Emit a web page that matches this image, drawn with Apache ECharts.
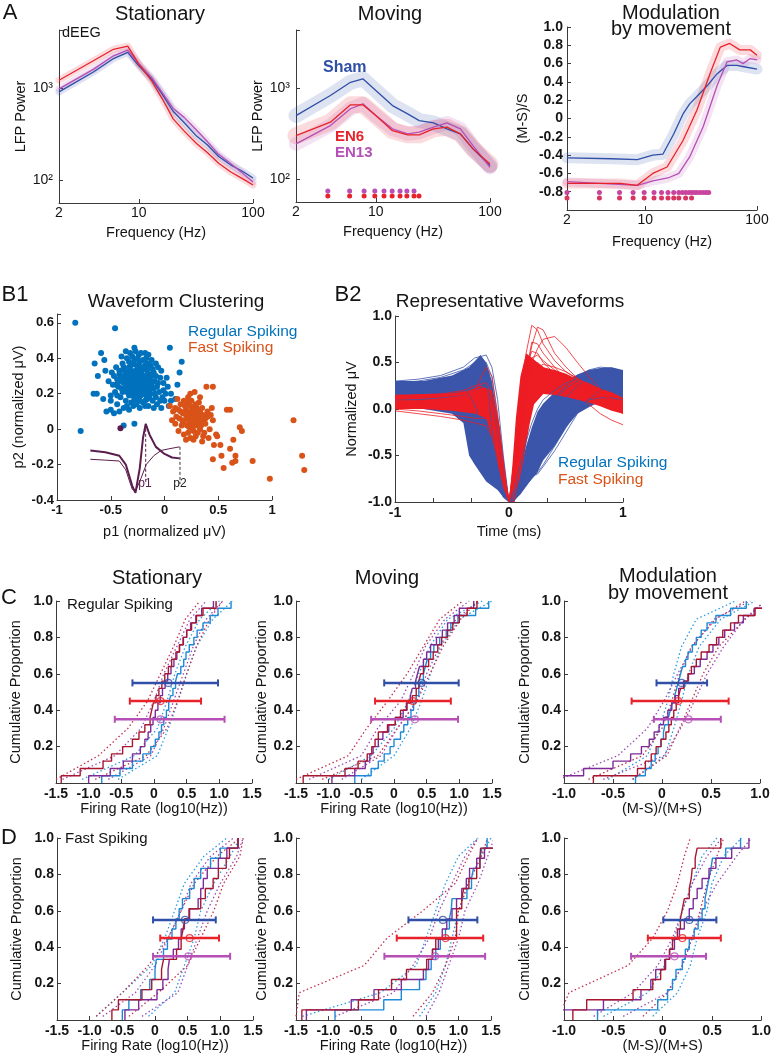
<!DOCTYPE html>
<html>
<head>
<meta charset="utf-8">
<title>LFP spectra, waveform clustering and firing-rate CDFs</title>
<script src="https://cdn.jsdelivr.net/npm/echarts@6/dist/echarts.min.js"></script>
<style>
  html, body { margin: 0; padding: 0; background: #fff; }
  #chart { width: 774px; height: 1058px; }
</style>
</head>
<body>
<div id="chart"></div>
<script>
// ---------- A: LFP power spectra ----------
const statFreq = [2, 4, 6, 8, 10, 13, 16, 20, 25, 32, 40, 50, 64, 80, 100];
const statSham = [910, 1500, 2100, 2450, 1750, 1250, 860, 560, 420, 300, 240, 180, 145, 125, 105];
const statEN6  = [1220, 1990, 2650, 2870, 1830, 1190, 770, 463, 340, 249, 198, 152, 122, 104, 88];
const statEN13 = [980, 1600, 2250, 2600, 1850, 1300, 900, 600, 480, 350, 260, 190, 150, 120, 95];

const movFreq = [2, 4, 6, 7.7, 10, 14, 19, 24, 32, 42, 55, 71, 100];
const movSham = [496, 822, 1150, 1255, 935, 638, 517, 437, 412, 355, 313, 214, 140];
const movEN6  = [299, 420, 650, 650, 496, 339, 305, 305, 355, 370, 313, 214, 146];
const movEN13 = [243, 385, 589, 667, 496, 355, 313, 326, 370, 412, 355, 232, 134];
const movSigEN13 = [3.8, 5.9, 7.9, 9.8, 11.8, 13.9, 16.3, 18.7, 21.6];
const movSigEN6  = [3.8, 5.9, 7.9, 9.8, 11.8, 13.9, 16.3, 18.7, 21.6, 23.9];
const movSigLevel = [74, 65];   // EN13 row, EN6 row

const modFreqSham = [2, 5, 8.5, 11.7, 14.4, 18, 21.8, 25, 29, 36, 44, 54, 66, 81, 100];
const modSham     = [-0.43, -0.44, -0.45, -0.40, -0.39, -0.17, 0.05, 0.16, 0.24, 0.36, 0.49, 0.58, 0.58, 0.56, 0.54];
const modFreqEN6  = [2, 6, 8.5, 11.7, 15.7, 21.8, 29, 38, 47, 57, 70, 87, 100];
const modEN6      = [-0.71, -0.71, -0.73, -0.60, -0.53, -0.24, 0.09, 0.49, 0.78, 0.82, 0.75, 0.75, 0.69];
const modFreqEN13 = [2, 8.5, 12, 16, 20, 25, 33, 44, 54, 66, 75, 87, 100];
const modEN13     = [-0.69, -0.73, -0.68, -0.65, -0.60, -0.42, -0.09, 0.36, 0.62, 0.64, 0.60, 0.655, 0.64];
const modSigEN13 = [2, 3.9, 5.9, 7.8, 9.8, 12, 14, 16, 18, 20, 21.5, 23, 24.5, 26, 27.5, 29, 31, 33, 35, 37];
const modSigEN6  = [2, 3.9, 5.9, 7.8, 9.8, 12, 14, 16, 18, 20, 23, 26];
const modSigLevel = [-0.81, -0.87];

// ---------- B1: waveform clustering (p1, p2) ----------
const rsPts = [
  [-0.30,0.30],[-0.28,0.27],[-0.25,0.29],[-0.22,0.26],[-0.20,0.30],[-0.32,0.25],[-0.35,0.28],[-0.27,0.33],[-0.23,0.33],[-0.18,0.27],
  [-0.15,0.24],[-0.26,0.22],[-0.30,0.21],[-0.34,0.23],[-0.38,0.26],[-0.40,0.30],[-0.37,0.33],[-0.33,0.35],[-0.29,0.37],[-0.24,0.36],
  [-0.19,0.34],[-0.14,0.31],[-0.12,0.27],[-0.10,0.23],[-0.13,0.20],[-0.17,0.21],[-0.21,0.22],[-0.24,0.18],[-0.28,0.17],[-0.33,0.19],
  [-0.39,0.21],[-0.43,0.24],[-0.44,0.28],[-0.42,0.33],[-0.39,0.37],[-0.35,0.40],[-0.30,0.41],[-0.25,0.40],[-0.20,0.39],[-0.16,0.37],
  [-0.11,0.34],[-0.08,0.30],[-0.06,0.26],[-0.05,0.21],[-0.08,0.18],[-0.11,0.16],[-0.16,0.17],[-0.20,0.15],[-0.26,0.14],[-0.31,0.15],
  [-0.36,0.16],[-0.41,0.18],[-0.46,0.21],[-0.48,0.25],[-0.47,0.30],[-0.45,0.35],[-0.31,0.27],[-0.27,0.25],[-0.23,0.24],[-0.26,0.31],
  [-0.21,0.28],[-0.17,0.30],[-0.29,0.24],[-0.33,0.30],[-0.36,0.25],[-0.24,0.21],[-0.19,0.24],[-0.14,0.27],[-0.22,0.32],[-0.31,0.33],
  [-0.29,0.29],[-0.26,0.27],[-0.24,0.26],[-0.21,0.25],[-0.18,0.23],[-0.28,0.32],[-0.34,0.32],[-0.37,0.29],[-0.32,0.22],[-0.27,0.20],
  [-0.22,0.19],[-0.17,0.19],[-0.13,0.23],[-0.09,0.27],[-0.12,0.30],[-0.16,0.33],[-0.20,0.35],[-0.25,0.34],[-0.41,0.27],[-0.38,0.23],
  [-0.29,0.31],[-0.27,0.29],[-0.25,0.25],[-0.23,0.28],[-0.21,0.31],[-0.19,0.29],[-0.17,0.26],[-0.16,0.22],[-0.20,0.20],[-0.23,0.16],
  [-0.30,0.19],[-0.35,0.21],[-0.36,0.31],[-0.33,0.38],[-0.28,0.39],[-0.23,0.38],[-0.18,0.36],[-0.14,0.35],[-0.10,0.32],[-0.07,0.24],
  [-0.09,0.20],[-0.14,0.18],[-0.18,0.16],[-0.25,0.16],[-0.40,0.23],[-0.42,0.31],[-0.38,0.35],[-0.32,0.28],[-0.26,0.36],[-0.20,0.27],
  [-0.15,0.28],[-0.12,0.25],[-0.34,0.26],[-0.28,0.22],[-0.22,0.21],[-0.31,0.36],[-0.44,0.19],[-0.04,0.29],[-0.06,0.35],[-0.01,0.22],
  [-0.13,0.36],[-0.17,0.40],[-0.24,0.42],[-0.32,0.43],[-0.45,0.25],[-0.49,0.32],[-0.50,0.16],[-0.04,0.16],[-0.07,0.14],[-0.18,0.13],
  [-0.23,0.12],[-0.29,0.13],[-0.35,0.13],[0.01,0.20],[-0.01,0.26],
  [-0.02,0.18],[0.00,0.16],[-0.03,0.12],[-0.10,0.12],[-0.15,0.13],[-0.12,0.39],[-0.08,0.37],[-0.22,0.43],[-0.27,0.44],[-0.15,0.42],
  [-0.40,0.41],[-0.50,0.19],[-0.52,0.27],[-0.55,0.33],[-0.44,0.14],[-0.38,0.12],[-0.33,0.11],[-0.47,0.09],[-0.42,0.10],[0.03,0.24],
  [0.06,0.20],[0.02,0.29],[-0.03,0.33],[0.04,0.13],
  [-0.83,0.60],[-0.46,0.57],[-0.78,-0.01],[-0.38,0.02],[-0.28,0.03],[-0.59,0.43],[-0.65,0.37],[-0.66,0.20],[-0.63,0.20],[-0.57,0.17],
  [-0.54,0.10],[-0.50,0.11],[-0.36,0.44],[-0.28,0.46],[-0.18,0.43],[0.05,0.46],[0.16,0.38],[0.14,0.32],[0.12,0.25],[0.10,0.17],
  [0.06,0.16],[-0.62,0.30],[-0.56,0.39]
];
const fsPts = [
  [0.20,0.08],[0.23,0.06],[0.26,0.07],[0.29,0.05],[0.32,0.06],[0.25,0.03],[0.28,0.09],[0.22,0.10],[0.18,0.05],[0.30,0.02],
  [0.34,0.04],[0.36,0.08],[0.27,0.12],[0.24,0.13],[0.31,0.11],[0.21,0.02],[0.17,0.09],[0.14,0.06],[0.33,0.00],[0.27,-0.01],
  [0.22,-0.02],[0.38,0.03],[0.40,0.07],[0.35,0.12],[0.19,0.13],[0.13,0.11],[0.11,0.07],[0.16,0.02],[0.29,-0.04],[0.24,-0.05],
  [0.37,-0.02],[0.42,0.00],[0.26,0.04],[0.24,0.09],[0.30,0.08],[0.28,0.06],[0.25,0.10],[0.21,0.06],[0.32,0.09],[0.27,0.02],
  [0.23,0.04],[0.26,0.10],[0.29,0.03],[0.31,0.07],[0.33,0.10],[0.27,0.05],[0.22,0.07],[0.19,0.09],[0.20,0.11],[0.35,0.05],
  [0.30,0.12],[0.26,0.00],[0.23,0.01],[0.34,0.02],[0.38,0.06],[0.17,0.04],[0.15,0.10],[0.29,0.14],[0.21,0.15],[0.31,-0.02],
  [0.36,-0.04],[0.40,0.10],[0.43,0.08],[0.27,-0.06],[0.18,-0.03],[0.10,0.12],[0.33,0.18],[0.22,0.18],
  [0.05,0.13],[0.08,0.10],[0.10,0.03],[0.13,-0.01],[0.18,0.16],[0.25,0.16],[0.32,0.15],[0.28,0.21],[0.24,0.20],[0.44,0.12],
  [0.45,0.05],[0.41,-0.05],[0.35,-0.07],[0.20,-0.06],[0.15,0.14],[0.12,0.17],[0.07,0.05],[0.48,-0.03],[0.46,-0.09],
  [0.39,0.24],[0.45,0.24],[0.58,0.11],[0.61,0.11],[0.70,0.01],[0.72,-0.01],[0.64,-0.06],[0.49,-0.04],[0.52,-0.09],[0.45,-0.17],
  [0.53,-0.15],[0.61,-0.11],[0.66,-0.15],[0.66,-0.18],[0.63,-0.19],[0.55,-0.22],[0.82,-0.18],[0.98,-0.28],[1.20,0.05],[1.28,-0.15],[1.30,-0.23]
];
const exampleUnit = [[-0.41, 0.005]];
const insetWaveA = [[-0.69,-0.12],[-0.55,-0.13],[-0.42,-0.15],[-0.36,-0.20],[-0.30,-0.32],[-0.27,-0.36],[-0.23,-0.22],[-0.20,-0.05],[-0.175,0.03],[-0.14,-0.03],[-0.08,-0.10],[0.00,-0.14],[0.07,-0.16],[0.14,-0.165]];
const insetWaveB = [[-0.69,-0.17],[-0.55,-0.175],[-0.42,-0.18],[-0.36,-0.23],[-0.30,-0.34],[-0.27,-0.35],[-0.22,-0.28],[-0.17,-0.20],[-0.10,-0.15],[-0.03,-0.12],[0.05,-0.11],[0.14,-0.10]];
const p1Mark = [[-0.175, 0.03], [-0.175, -0.31]];
const p2Mark = [[0.144, -0.10], [0.144, -0.31]];

// ---------- B2: representative waveforms ----------
const rsEnvUpper = [[-1,0.3],[-0.75,0.3],[-0.5,0.36],[-0.35,0.45],[-0.25,0.58],[-0.2,0.5],[-0.15,0.3],[-0.1,-0.1],[-0.05,-0.6],[0,-1.0],[0.05,-0.85],[0.1,-0.62],[0.15,-0.4],[0.2,-0.2],[0.25,-0.03],[0.3,0.06],[0.4,0.18],[0.5,0.3],[0.6,0.37],[0.7,0.42],[0.8,0.44],[0.9,0.45],[1.0,0.42]];
const rsEnvLower = [[-1,0.03],[-0.75,0.0],[-0.5,-0.05],[-0.4,-0.15],[-0.35,-0.5],[-0.3,-0.6],[-0.2,-0.78],[-0.1,-0.87],[-0.05,-0.95],[0,-1.0],[0.03,-1.0],[0.1,-0.92],[0.2,-0.75],[0.25,-0.68],[0.3,-0.55],[0.4,-0.4],[0.5,-0.2],[0.6,-0.05],[0.7,0.02],[0.8,0.08],[0.9,0.1],[1.0,0.1]];
const fsEnvUpper = [[-1,0.15],[-0.75,0.16],[-0.5,0.17],[-0.35,0.2],[-0.25,0.25],[-0.15,0.2],[-0.08,-0.2],[-0.03,-0.7],[0,-1.0],[0.03,-0.6],[0.06,-0.1],[0.1,0.35],[0.15,0.6],[0.2,0.55],[0.3,0.45],[0.4,0.42],[0.5,0.38],[0.6,0.32],[0.7,0.28],[0.8,0.22],[0.9,0.18],[1.0,0.12]];
const fsEnvLower = [[-1,0.0],[-0.75,0.0],[-0.5,-0.02],[-0.3,-0.05],[-0.2,-0.1],[-0.15,-0.3],[-0.1,-0.6],[-0.05,-0.85],[0,-1.0],[0.05,-1.0],[0.13,-0.53],[0.18,-0.17],[0.22,0.05],[0.3,0.16],[0.4,0.15],[0.5,0.13],[0.6,0.1],[0.7,0.07],[0.8,0.03],[0.9,-0.02],[1.0,-0.05]];
const wfTime = [-1, -0.8, -0.6, -0.4, -0.3, -0.2, -0.15, -0.1, -0.05, 0, 0.05, 0.1, 0.15, 0.2, 0.25, 0.3, 0.4, 0.5, 0.6, 0.7, 0.8, 0.9, 1.0];
const rsWaves = [
  [0.25,0.27,0.3,0.38,0.45,0.5,0.35,-0.1,-0.6,-1.0,-0.95,-0.85,-0.7,-0.55,-0.4,-0.25,-0.05,0.12,0.25,0.33,0.38,0.4,0.38],
  [0.3,0.32,0.36,0.45,0.55,0.58,0.45,0.1,-0.5,-1.0,-0.9,-0.75,-0.55,-0.35,-0.2,-0.05,0.12,0.25,0.35,0.42,0.45,0.44,0.4],
  [0.1,0.1,0.12,0.15,0.2,0.25,0.1,-0.3,-0.8,-1.0,-0.98,-0.9,-0.82,-0.75,-0.68,-0.6,-0.4,-0.2,0.0,0.1,0.12,0.12,0.1],
  [0.2,0.22,0.25,0.3,0.35,0.4,0.2,-0.2,-0.7,-1.0,-0.92,-0.8,-0.6,-0.4,-0.25,-0.1,0.1,0.22,0.3,0.35,0.37,0.36,0.33],
  [0.28,0.3,0.34,0.42,0.5,0.35,-0.2,-0.6,-0.9,-1.0,-0.85,-0.6,-0.35,-0.15,0.0,0.1,0.2,0.28,0.33,0.37,0.4,0.42,0.4],
  [0.15,0.17,0.2,0.25,0.05,-0.4,-0.6,-0.8,-0.95,-1.0,-0.97,-0.9,-0.8,-0.72,-0.7,-0.62,-0.45,-0.25,-0.05,0.1,0.2,0.25,0.25]
];
const fsWaves = [
  [0.12,0.13,0.14,0.16,0.18,0.2,0.12,-0.2,-0.7,-1.0,-0.55,0.1,0.6,0.9,0.85,0.7,0.52,0.4,0.32,0.25,0.18,0.1,0.05],
  [0.05,0.06,0.07,0.08,0.1,0.1,0.0,-0.35,-0.8,-1.0,-0.6,-0.05,0.35,0.68,0.88,0.85,0.6,0.45,0.33,0.25,0.17,0.1,0.04],
  [0.15,0.15,0.16,0.2,0.25,0.28,0.18,-0.1,-0.6,-1.0,-0.7,-0.3,0.2,0.5,0.65,0.75,0.78,0.66,0.5,0.35,0.22,0.1,0.0],
  [-0.02,-0.05,-0.08,-0.12,-0.15,-0.18,-0.3,-0.5,-0.8,-1.0,-0.65,-0.2,0.25,0.45,0.5,0.45,0.35,0.25,0.15,0.05,-0.05,-0.12,-0.17],
  [0.1,0.12,0.13,0.15,0.2,0.45,0.35,-0.05,-0.6,-1.0,-0.5,0.15,0.45,0.62,0.6,0.5,0.38,0.3,0.25,0.2,0.15,0.1,0.08],
  [0.08,0.08,0.09,0.1,0.12,0.12,0.05,-0.3,-0.75,-1.0,-0.6,-0.1,0.3,0.55,0.58,0.52,0.42,0.34,0.27,0.2,0.12,0.05,0.0],
  [0.0,-0.02,-0.05,-0.08,-0.1,-0.1,-0.15,-0.4,-0.8,-1.0,-0.55,0.0,0.4,0.72,0.7,0.6,0.45,0.32,0.22,0.14,0.08,0.02,-0.05],
  [0.14,0.14,0.15,0.17,0.2,0.22,0.15,-0.15,-0.65,-1.0,-0.7,-0.25,0.15,0.38,0.45,0.48,0.45,0.4,0.33,0.26,0.2,0.14,0.1]
];

// ---------- C/D: cumulative distributions (sorted unit values) ----------
const cdfLevels = [0.02, 0.15, 0.3, 0.45, 0.6, 0.75, 0.9, 1.0];   // y of the dotted bounds
const errLevels = [0.55, 0.45, 0.35];                              // Sham, EN6, EN13 bars

const c1Sham = [-0.8,-0.52,-0.33,-0.17,-0.05,0.02,0.075,0.115,0.15,0.19,0.225,0.255,0.29,0.33,0.36,0.41,0.455,0.49,0.54,0.61,0.66,0.75,0.86,0.98,1.18];
const c1EN6  = [-1.42,-1.13,-0.78,-0.65,-0.48,-0.33,-0.23,-0.14,-0.06,-0.035,-0.01,0.03,0.075,0.12,0.165,0.22,0.27,0.335,0.39,0.45,0.5,0.575,0.65,0.75,0.95];
const c1EN13 = [-1.0,-0.67,-0.47,-0.33,-0.21,-0.14,-0.09,-0.05,-0.015,0.02,0.06,0.095,0.13,0.17,0.21,0.26,0.305,0.35,0.39,0.445,0.5,0.56,0.64,0.73,0.91];
const c1ShamLo = [-1.1,-0.3,0.05,0.2,0.32,0.48,0.7,1.0],   c1ShamHi = [-0.55,0.05,0.22,0.37,0.5,0.65,0.9,1.2];
const c1EN6Lo  = [-1.5,-0.85,-0.4,-0.1,0.1,0.3,0.48,0.7],   c1EN6Hi  = [-0.9,-0.12,0.2,0.36,0.5,0.65,0.85,1.05];
const c1EN13Lo = [-1.4,-0.6,-0.2,0.0,0.15,0.35,0.55,0.8],   c1EN13Hi = [-0.7,-0.05,0.15,0.3,0.45,0.6,0.8,1.05];
const c1ErrSham = [-0.33, 0.22, 0.98], c1ErrEN6 = [-0.37, 0.1, 0.72], c1ErrEN13 = [-0.6, 0.1, 1.08];

const c2Sham = [-0.6,-0.35,-0.24,-0.15,-0.06,0.0,0.1,0.15,0.21,0.26,0.3,0.34,0.38,0.41,0.45,0.48,0.51,0.56,0.61,0.7,0.8,0.87,0.98,1.25,1.45];
const c2EN6  = [-1.39,-0.75,-0.55,-0.41,-0.34,-0.29,-0.24,-0.1,0.02,0.1,0.19,0.28,0.34,0.38,0.41,0.45,0.53,0.6,0.67,0.73,0.82,0.9,1.0,1.12,1.27];
const c2EN13 = [-0.95,-0.6,-0.44,-0.37,-0.32,-0.24,-0.17,-0.08,0.02,0.14,0.2,0.25,0.28,0.33,0.36,0.39,0.45,0.5,0.56,0.65,0.74,0.82,0.92,1.0,1.22];
const c2ShamLo = [-1.0,-0.35,0.0,0.22,0.38,0.55,0.82,1.35],  c2ShamHi = [-0.5,0.0,0.25,0.42,0.56,0.72,1.0,1.5];
const c2EN6Lo  = [-1.5,-0.7,-0.42,-0.1,0.2,0.45,0.7,1.05],  c2EN6Hi  = [-1.1,-0.25,0.05,0.35,0.55,0.75,1.02,1.28];
const c2EN13Lo = [-1.3,-0.5,-0.25,0.1,0.3,0.48,0.78,1.15],  c2EN13Hi = [-0.8,-0.2,0.05,0.35,0.5,0.7,0.95,1.3];
const c2ErrSham = [-0.15, 0.42, 0.99], c2ErrEN6 = [-0.29, 0.29, 0.87], c2ErrEN13 = [-0.35, 0.32, 0.98];

const c3Sham = [-0.27,-0.17,-0.11,-0.07,-0.04,-0.01,0.015,0.03,0.065,0.085,0.105,0.13,0.15,0.17,0.19,0.21,0.24,0.265,0.31,0.35,0.4,0.46,0.55,0.7,0.86];
const c3EN6  = [-0.7,-0.25,-0.17,-0.11,-0.06,-0.01,0.04,0.07,0.095,0.12,0.145,0.17,0.19,0.225,0.265,0.3,0.35,0.4,0.48,0.557,0.62,0.7,0.78,0.95,1.05];
const c3EN13 = [-1.05,-0.8,-0.5,-0.32,-0.21,-0.13,-0.08,-0.03,0.015,0.06,0.1,0.135,0.17,0.22,0.27,0.33,0.39,0.46,0.52,0.58,0.64,0.74,0.83,0.94,1.05];
const c3ShamLo = [-0.55,-0.15,-0.03,0.06,0.12,0.2,0.35,0.75],  c3ShamHi = [-0.3,0.03,0.12,0.2,0.27,0.38,0.6,0.95];
const c3EN6Lo  = [-0.75,-0.2,0.0,0.1,0.18,0.3,0.55,0.85],     c3EN6Hi  = [-0.3,0.05,0.18,0.3,0.42,0.58,0.85,1.05];
const c3EN13Lo = [-1.05,-0.45,-0.15,0.02,0.16,0.31,0.53,0.9], c3EN13Hi = [-0.6,0.02,0.19,0.33,0.46,0.63,0.84,1.05];
const c3ErrSham = [-0.056, 0.2, 0.46], c3ErrEN6 = [-0.31, 0.165, 0.68], c3ErrEN13 = [-0.083, 0.27, 0.6];

const d1Sham = [-0.5,-0.4,-0.22,-0.08,0.0,0.02,0.13,0.19,0.26,0.32,0.37,0.42,0.53,0.6,0.7,0.85,1.0,1.27];
const d1EN6  = [-0.66,-0.56,-0.2,-0.05,0.1,0.13,0.33,0.4,0.43,0.46,0.52,0.7,0.77,0.89,0.97,1.09,1.14,1.27];
const d1EN13 = [-0.46,-0.25,0.03,0.12,0.2,0.22,0.28,0.36,0.4,0.45,0.53,0.66,0.7,0.74,0.8,0.97,1.1,1.27];
const d1ShamLo = [-0.9,-0.5,-0.05,0.15,0.3,0.45,0.75,1.1],  d1ShamHi = [-0.1,0.3,0.45,0.6,0.7,0.9,1.15,1.3];
const d1EN6Lo  = [-0.9,-0.5,-0.1,0.2,0.4,0.6,0.95,1.3],    d1EN6Hi  = [-0.4,0.05,0.5,0.7,0.9,1.05,1.3,1.35];
const d1EN13Lo = [-0.8,-0.3,0.0,0.2,0.4,0.55,0.85,1.2],    d1EN13Hi = [-0.2,0.35,0.5,0.65,0.8,1.0,1.25,1.35];
const d1ErrSham = [-0.03, 0.46, 0.93], d1ErrEN6 = [0.08, 0.53, 0.98], d1ErrEN13 = [-0.03, 0.51, 1.15];

const d2Sham = [-0.9,-0.15,0.12,0.4,0.5,0.58,0.65,0.72,0.8,0.86,0.89,0.9,1.13,1.2,1.23,1.33,1.36,1.44];
const d2EN6  = [-1.41,-0.54,-0.23,-0.03,0.2,0.51,0.6,0.65,0.97,0.97,0.97,1.05,1.08,1.16,1.28,1.33,1.34,1.6];
const d2EN13 = [-1.34,-0.65,-0.3,0.12,0.46,0.54,0.6,0.69,0.75,0.82,0.9,0.97,1.05,1.12,1.17,1.28,1.4,1.55];
const d2ShamLo = [-1.4,-0.2,0.35,0.5,0.65,0.8,1.0,1.3],     d2ShamHi = [0.4,0.65,0.8,0.9,1.0,1.15,1.35,1.5];
const d2EN6Lo  = [-1.5,-1.45,-0.45,-0.1,0.45,0.95,1.15,1.3], d2EN6Hi  = [0.3,0.6,0.8,0.95,1.0,1.15,1.35,1.45];
const d2EN13Lo = [-0.9,0.0,0.3,0.55,0.7,0.9,1.1,1.3],       d2EN13Hi = [0.5,0.7,0.85,1.0,1.1,1.3,1.45,1.55];
const d2ErrSham = [0.23, 0.76, 1.29], d2ErrEN6 = [0.05, 0.8, 1.38], d2ErrEN13 = [-0.14, 0.64, 1.41];

const d3Sham = [-0.66,-0.05,0.05,0.1,0.135,0.2,0.23,0.27,0.32,0.36,0.4,0.43,0.45,0.47,0.49,0.505,0.64,0.79];
const d3EN6  = [-0.91,-0.77,-0.3,-0.1,-0.02,0.03,0.07,0.1,0.15,0.18,0.2,0.22,0.27,0.29,0.3,0.33,0.35,0.59];
const d3EN13 = [-1.05,-0.6,-0.22,-0.12,-0.07,0.02,0.07,0.12,0.17,0.22,0.27,0.31,0.35,0.4,0.47,0.54,0.7,0.875];
const d3ShamLo = [-0.6,-0.15,0.02,0.12,0.2,0.3,0.4,0.55],     d3ShamHi = [-0.1,0.15,0.28,0.35,0.45,0.5,0.62,0.8];
const d3EN6Lo  = [-1.05,-0.95,-0.35,-0.1,0.05,0.15,0.22,0.28], d3EN6Hi  = [-0.2,0.05,0.2,0.3,0.38,0.45,0.55,0.62];
const d3EN13Lo = [-0.7,-0.3,-0.05,0.1,0.2,0.3,0.45,0.6],      d3EN13Hi = [-0.4,0.05,0.2,0.3,0.4,0.55,0.75,0.9];
const d3ErrSham = [0.007, 0.27, 0.545], d3ErrEN6 = [-0.15, 0.2, 0.59], d3ErrEN13 = [-0.32, 0.12, 0.44];

// ---------- style ----------
const FONT = 'Liberation Sans, Arial, sans-serif';
const INK = '#141414';
const COL = {
  sham: '#2f4fa8', en6: '#e8222b', en13: '#b64fb6',
  rs: '#0072bd', fs: '#d95319',
  wfBlue: '#3b55aa', wfRed: '#ee1d24',
  cdfSham: '#1d8ad8', cdfEN6: '#a8172f', cdfEN13: '#7e2b98',
  dotSham: '#2e9be0', dotEN6: '#c0304f', dotEN13: '#9b4cb5',
  inset: '#5b1d4d'
};

const zip = (xs, ys) => xs.map((x, i) => [x, ys[i]]);
const flat = (xs, y) => xs.map(x => [x, y]);
function ecdf(xs) {
  const n = xs.length;
  return [[xs[0], 0]].concat(xs.map((x, i) => [x, (i + 1) / n]));
}

function grid(left, top, width, height) { return { left: left, top: top, width: width, height: height }; }
const grids = [
  grid(59, 30, 194, 173),   // 0 A1
  grid(296, 30, 194, 172),  // 1 A2
  grid(567, 27, 190, 183),  // 2 A3
  grid(57, 314, 215, 186),  // 3 B1
  grid(395, 316, 228, 186), // 4 B2
  grid(56, 601, 196, 182),  // 5 C1
  grid(296, 601, 196, 182), // 6 C2
  grid(564, 601, 196, 182), // 7 C3
  grid(57, 838, 196, 182),  // 8 D1
  grid(296, 838, 195, 182), // 9 D2
  grid(564, 838, 198, 182)  // 10 D3
];

function axis(gi, o) {
  const a = {
    gridIndex: gi, type: o.type || 'value', min: o.min, max: o.max,
    name: o.name || '', nameLocation: 'middle', nameGap: o.gap || 20,
    nameTextStyle: { fontFamily: FONT, fontSize: o.nameSize || 14.5, color: INK },
    axisLine: { show: true, onZero: false, lineStyle: { color: '#3a3a3a', width: 1 } },
    axisTick: { show: true, inside: true, length: 4, lineStyle: { color: '#3a3a3a' } },
    axisLabel: { fontFamily: FONT, fontSize: o.labelSize || 14, fontWeight: 'bold', color: INK, margin: o.margin || 4, formatter: o.fmt },
    splitLine: { show: false },
    silent: true
  };
  if (o.interval !== undefined) a.interval = o.interval;
  if (o.type === 'log') { a.logBase = 10; a.axisLabel.fontWeight = 'normal'; }
  return a;
}

const SUP = '⁰¹²³⁴⁵⁶⁷⁸⁹';
const fmtLogX = v => { const r = Math.round(v); return (Math.abs(v - r) < 1e-6 && [2, 10, 100].indexOf(r) >= 0) ? String(r) : ''; };
const fmtLogY = v => { const e = Math.log10(v); const r = Math.round(e); return Math.abs(e - r) < 1e-6 ? '10' + SUP[r] : ''; };
const fmt1 = v => Math.abs(v) < 1e-9 ? '0' : v.toFixed(1);
const fmtMod = v => v < -0.99 ? '' : fmt1(v);
const fmtP = v => Math.abs(v * 5 - Math.round(v * 5)) < 1e-6 ? fmt1(v) : '';
const fmtInt = v => Math.abs(v - Math.round(v)) < 1e-6 ? String(Math.round(v)) : '';
const fmtCdfY = v => v < 0.01 ? '' : v.toFixed(1);

const xAxes = [
  axis(0, { type: 'log', min: 2, max: 100, fmt: fmtLogX, name: 'Frequency (Hz)', gap: 22, labelSize: 14, margin: 3 }),
  axis(1, { type: 'log', min: 2, max: 100, fmt: fmtLogX, name: 'Frequency (Hz)', gap: 22, labelSize: 14, margin: 3 }),
  axis(2, { type: 'log', min: 2, max: 100, fmt: fmtLogX, name: 'Frequency (Hz)', gap: 24, labelSize: 14, margin: 3 }),
  axis(3, { min: -1, max: 1, interval: 0.5, name: 'p1 (normalized μV)', gap: 24, labelSize: 13 }),
  axis(4, { min: -1, max: 1, interval: 1 / 3, fmt: fmtInt, name: 'Time (ms)', gap: 22, labelSize: 14 }),
  axis(5, { min: -1.5, max: 1.5, interval: 0.5, fmt: fmt1, name: 'Firing Rate (log10(Hz))', gap: 17 }),
  axis(6, { min: -1.5, max: 1.5, interval: 0.5, fmt: fmt1, name: 'Firing Rate (log10(Hz))', gap: 17 }),
  axis(7, { min: -1, max: 1, interval: 0.5, fmt: fmt1, name: '(M-S)/(M+S)', gap: 17 }),
  axis(8, { min: -1.5, max: 1.5, interval: 0.5, fmt: fmt1, name: 'Firing Rate (log10(Hz))', gap: 18 }),
  axis(9, { min: -1.5, max: 1.5, interval: 0.5, fmt: fmt1, name: 'Firing Rate (log10(Hz))', gap: 18 }),
  axis(10, { min: -1, max: 1, interval: 0.5, fmt: fmt1, name: '(M-S)/(M+S)', gap: 18 })
];
const yAxes = [
  axis(0, { type: 'log', min: 56, max: 4300, fmt: fmtLogY, name: 'LFP Power', gap: 29, margin: 6 }),
  axis(1, { type: 'log', min: 56, max: 4300, fmt: fmtLogY, name: 'LFP Power', gap: 27, margin: 6 }),
  axis(2, { min: -1, max: 1, interval: 0.2, fmt: fmtMod, name: '(M-S)/S', gap: 37 }),
  axis(3, { min: -0.4, max: 0.65, interval: 0.2, fmt: fmtP, name: 'p2 (normalized μV)', gap: 31, labelSize: 13, margin: 3 }),
  axis(4, { min: -1, max: 1, interval: 0.5, fmt: v => v.toFixed(1), name: 'Normalized μV', gap: 36, margin: 3 }),
  axis(5, { min: 0, max: 1, interval: 0.2, fmt: fmtCdfY, name: 'Cumulative Proportion', gap: 33, margin: 3 }),
  axis(6, { min: 0, max: 1, interval: 0.2, fmt: fmtCdfY, name: 'Cumulative Proportion', gap: 27, margin: 3 }),
  axis(7, { min: 0, max: 1, interval: 0.2, fmt: fmtCdfY, name: 'Cumulative Proportion', gap: 32, margin: 3 }),
  axis(8, { min: 0, max: 1, interval: 0.2, fmt: fmtCdfY, name: 'Cumulative Proportion', gap: 33, margin: 3 }),
  axis(9, { min: 0, max: 1, interval: 0.2, fmt: fmtCdfY, name: 'Cumulative Proportion', gap: 27, margin: 3 }),
  axis(10, { min: 0, max: 1, interval: 0.2, fmt: fmtCdfY, name: 'Cumulative Proportion', gap: 32, margin: 3 })
];

// ---------- series helpers ----------
function line(gi, data, color, width, more) {
  return Object.assign({
    type: 'line', xAxisIndex: gi, yAxisIndex: gi, data: data,
    symbol: 'none', silent: true, animation: false,
    lineStyle: { color: color, width: width }
  }, more || {});
}
function band(gi, data, color, width) {
  return line(gi, data, color, width, {
    lineStyle: { color: color, width: width, opacity: 0.16, cap: 'round', join: 'round' }
  });
}
function dots(gi, data, color, size, more) {
  return Object.assign({
    type: 'scatter', xAxisIndex: gi, yAxisIndex: gi, data: data, symbolSize: size,
    itemStyle: { color: color, opacity: 1 }, silent: true, animation: false
  }, more || {});
}
function poly(gi, upper, lower, color) {
  const pts = upper.concat(lower.slice().reverse());
  return {
    type: 'custom', xAxisIndex: gi, yAxisIndex: gi, data: pts, silent: true, animation: false,
    renderItem: function (params, api) {
      if (params.dataIndex !== 0) return null;
      return { type: 'polygon', shape: { points: pts.map(p => api.coord(p)) }, style: { fill: color } };
    }
  };
}
function errBar(gi, e, y, color) {
  return [
    line(gi, [[e[0], y], [e[2], y]], color, 2.5, {
      symbol: 'rect', symbolSize: [2, 7], showSymbol: true, itemStyle: { color: color }, z: 5
    }),
    dots(gi, [[e[1], y]], color, 7, {
      itemStyle: { color: 'rgba(255,255,255,0)', borderColor: color, borderWidth: 1.2 }, z: 6
    })
  ];
}

const series = [];

// A1 stationary
series.push(band(0, zip(statFreq, statSham), COL.sham, 7));
series.push(band(0, zip(statFreq, statEN13), COL.en13, 7));
series.push(band(0, zip(statFreq, statEN6), COL.en6, 7));
series.push(line(0, zip(statFreq, statSham), COL.sham, 1.3));
series.push(line(0, zip(statFreq, statEN13), COL.en13, 1.3));
series.push(line(0, zip(statFreq, statEN6), COL.en6, 1.3));

// A2 moving
series.push(band(1, zip(movFreq, movSham), COL.sham, 15));
series.push(band(1, zip(movFreq, movEN13), COL.en13, 14));
series.push(band(1, zip(movFreq, movEN6), COL.en6, 17));
series.push(line(1, zip(movFreq, movSham), COL.sham, 1.3));
series.push(line(1, zip(movFreq, movEN13), COL.en13, 1.3));
series.push(line(1, zip(movFreq, movEN6), COL.en6, 1.3));
series.push(dots(1, flat(movSigEN13, movSigLevel[0]), COL.en13, 5));
series.push(dots(1, flat(movSigEN6, movSigLevel[1]), COL.en6, 5));

// A3 modulation
series.push(band(2, zip(modFreqSham, modSham), COL.sham, 11));
series.push(band(2, zip(modFreqEN13, modEN13), COL.en13, 9));
series.push(band(2, zip(modFreqEN6, modEN6), COL.en6, 10));
series.push(line(2, zip(modFreqSham, modSham), COL.sham, 1.3));
series.push(line(2, zip(modFreqEN13, modEN13), COL.en13, 1.3));
series.push(line(2, zip(modFreqEN6, modEN6), COL.en6, 1.3));
series.push(dots(2, flat(modSigEN13, modSigLevel[0]), '#c8449e', 5));
series.push(dots(2, flat(modSigEN6, modSigLevel[1]), '#d83462', 5));

// B1 clustering
series.push(dots(3, rsPts, COL.rs, 6, { clip: false }));
series.push(dots(3, fsPts, COL.fs, 6, { clip: false }));
series.push(dots(3, exampleUnit, COL.inset, 6));
series.push(line(3, insetWaveB, COL.inset, 1));
series.push(line(3, insetWaveA, COL.inset, 2));
series.push(line(3, p1Mark, COL.inset, 1, { lineStyle: { color: COL.inset, width: 1, type: [3, 2] } }));
series.push(line(3, p2Mark, '#333', 1, { lineStyle: { color: '#333', width: 1, type: [3, 2] } }));

// B2 waveforms
series.push(poly(4, rsEnvUpper, rsEnvLower, COL.wfBlue));
rsWaves.forEach(w => series.push(line(4, zip(wfTime, w), COL.wfBlue, 0.8)));
series.push(poly(4, fsEnvUpper, fsEnvLower, COL.wfRed));
fsWaves.forEach(w => series.push(line(4, zip(wfTime, w), COL.wfRed, 0.8)));

// C / D cumulative distributions
const cdfPanels = [
  [5, c1Sham, c1EN6, c1EN13, [c1ShamLo, c1ShamHi], [c1EN6Lo, c1EN6Hi], [c1EN13Lo, c1EN13Hi], [c1ErrSham, c1ErrEN6, c1ErrEN13]],
  [6, c2Sham, c2EN6, c2EN13, [c2ShamLo, c2ShamHi], [c2EN6Lo, c2EN6Hi], [c2EN13Lo, c2EN13Hi], [c2ErrSham, c2ErrEN6, c2ErrEN13]],
  [7, c3Sham, c3EN6, c3EN13, [c3ShamLo, c3ShamHi], [c3EN6Lo, c3EN6Hi], [c3EN13Lo, c3EN13Hi], [c3ErrSham, c3ErrEN6, c3ErrEN13]],
  [8, d1Sham, d1EN6, d1EN13, [d1ShamLo, d1ShamHi], [d1EN6Lo, d1EN6Hi], [d1EN13Lo, d1EN13Hi], [d1ErrSham, d1ErrEN6, d1ErrEN13]],
  [9, d2Sham, d2EN6, d2EN13, [d2ShamLo, d2ShamHi], [d2EN6Lo, d2EN6Hi], [d2EN13Lo, d2EN13Hi], [d2ErrSham, d2ErrEN6, d2ErrEN13]],
  [10, d3Sham, d3EN6, d3EN13, [d3ShamLo, d3ShamHi], [d3EN6Lo, d3EN6Hi], [d3EN13Lo, d3EN13Hi], [d3ErrSham, d3ErrEN6, d3ErrEN13]]
];
const solidCols = [COL.cdfSham, COL.cdfEN6, COL.cdfEN13];
const dotCols = [COL.dotSham, COL.dotEN6, COL.dotEN13];
const barCols = [COL.sham, COL.en6, COL.en13];
cdfPanels.forEach(function (p) {
  const gi = p[0];
  [p[4], p[5], p[6]].forEach(function (pair, k) {
    pair.forEach(function (xs) {
      series.push(line(gi, zip(xs, cdfLevels), dotCols[k], 1.3, {
        lineStyle: { color: dotCols[k], width: 1.3, type: [1.5, 2.5] }
      }));
    });
  });
  [0, 2, 1].forEach(function (k) {
    series.push(line(gi, ecdf(p[1 + k]), solidCols[k], 1.4, { step: 'end' }));
  });
  p[7].forEach(function (e, k) {
    errBar(gi, e, errLevels[k], barCols[k]).forEach(s => series.push(s));
  });
});

// ---------- text ----------
function txt(x, y, text, size, color, align, weight) {
  return {
    type: 'text', x: x, y: y, silent: true, z: 100,
    style: { text: text, fontFamily: FONT, fontSize: size, fill: color || INK,
             align: align || 'center', verticalAlign: 'middle', fontWeight: weight || 'normal' }
  };
}
const texts = [
  txt(10, 13, 'A', 22),
  txt(160, 14, 'Stationary', 20),
  txt(390, 14, 'Moving', 20),
  txt(671, 13, 'Modulation', 20),
  txt(671, 29, 'by movement', 20),
  txt(62, 33, 'dEEG', 14.5, INK, 'left'),
  txt(323, 68, 'Sham', 16, COL.sham, 'left', 'bold'),
  txt(335, 137, 'EN6', 15, COL.en6, 'left', 'bold'),
  txt(335, 153, 'EN13', 15, COL.en13, 'left', 'bold'),
  txt(15, 295, 'B1', 22),
  txt(176, 302, 'Waveform Clustering', 19),
  txt(188, 332, 'Regular Spiking', 15.5, COL.rs, 'left'),
  txt(188, 348, 'Fast Spiking', 15.5, COL.fs, 'left'),
  txt(145, 484, 'p1', 12, COL.inset),
  txt(180, 484, 'p2', 12, '#222'),
  txt(348, 295, 'B2', 22),
  txt(510, 302, 'Representative Waveforms', 19),
  txt(558, 463, 'Regular Spiking', 15.5, COL.rs, 'left'),
  txt(558, 480, 'Fast Spiking', 15.5, COL.fs, 'left'),
  txt(9, 598, 'C', 22),
  txt(157, 578, 'Stationary', 20),
  txt(387, 578, 'Moving', 20),
  txt(668, 576, 'Modulation', 20),
  txt(668, 593, 'by movement', 20),
  txt(67, 605, 'Regular Spiking', 15, INK, 'left'),
  txt(9, 838, 'D', 22),
  txt(65, 839, 'Fast Spiking', 15, INK, 'left')
];

const chart = echarts.init(document.getElementById('chart'));
chart.setOption({
  animation: false,
  backgroundColor: '#fff',
  grid: grids,
  xAxis: xAxes,
  yAxis: yAxes,
  series: series,
  graphic: texts
});
</script>
</body>
</html>
